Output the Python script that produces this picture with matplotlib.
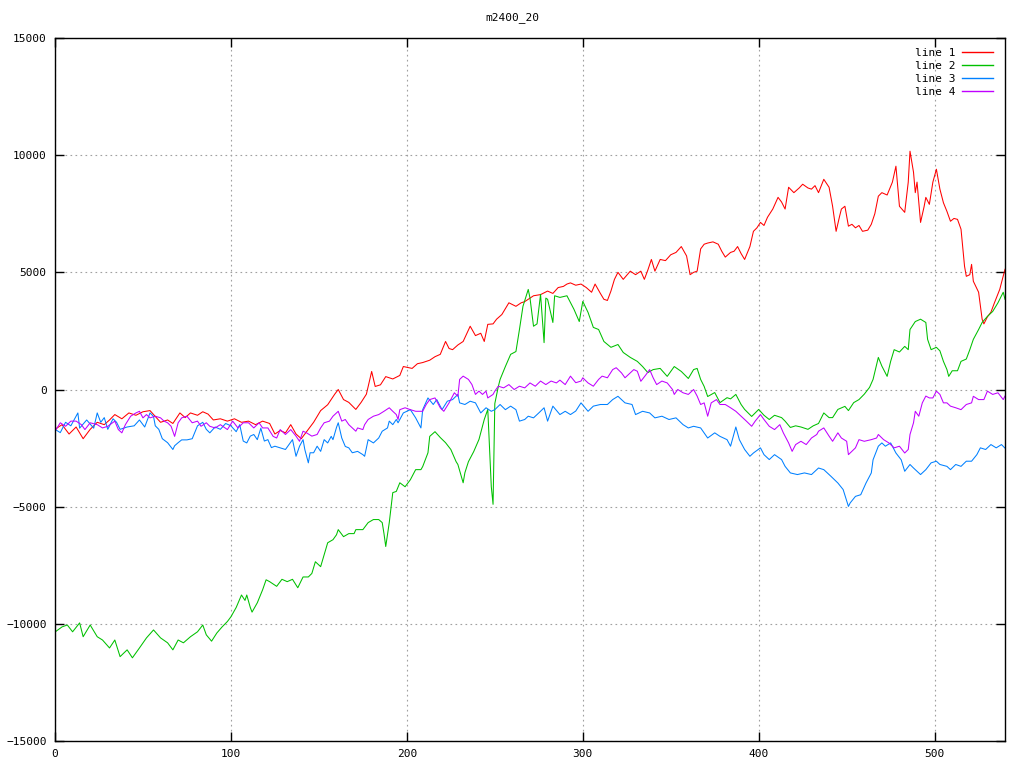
import matplotlib
matplotlib.use("Agg")
import matplotlib.pyplot as plt

title = "m2400_20"
labels = ["line 1", "line 2", "line 3", "line 4"]
colors = ["#ff0000", "#00c000", "#0080ff", "#c000ff"]
xticks = [0, 100, 200, 300, 400, 500]
yticks = [-15000, -10000, -5000, 0, 5000, 10000, 15000]

line1_x = [0, 4, 8, 12, 16, 20, 24, 28, 31, 34,
           38, 42, 46, 50, 54, 57, 60, 64, 67, 71,
           74, 77, 81, 84, 87, 90, 94, 98, 102, 106,
           110, 114, 118, 122, 125, 128, 131, 134, 137, 140,
           143, 147, 151, 155, 159, 161, 164, 167, 171, 174,
           177, 180, 182, 185, 188, 192, 196, 198, 203, 206,
           209, 213, 216, 219, 222, 224, 226, 229, 232, 236,
           239, 242, 244, 246, 249, 251, 254, 258, 262, 265,
           267, 270, 272, 276, 280, 283, 286, 289, 291, 293,
           296, 299, 302, 305, 307, 310, 312, 314, 316, 318,
           320, 323, 327, 330, 333, 335, 337, 339, 341, 344,
           347, 350, 353, 356, 359, 361, 363, 365, 367, 369,
           371, 374, 377, 379, 381, 384, 386, 388, 390, 392,
           395, 397, 399, 401, 403, 405, 408, 411, 413, 415,
           417, 420, 423, 425, 428, 430, 432, 434, 437, 440,
           442, 444, 446, 447, 449, 451, 453, 455, 457, 459,
           462, 464, 466, 468, 470, 473, 476, 478, 480, 483,
           485, 486, 488, 489, 490, 492, 494, 495, 497, 499,
           501, 503, 505, 507, 509, 511, 513, 515, 517, 518,
           520, 521, 522, 525, 527, 528, 530, 532, 534, 537, 540]
line1_y = [-1700, -1500, -1900, -1600, -2100, -1700, -1400, -1500, -1300, -1070,
           -1250, -1000, -1100, -950, -900, -1150, -1400, -1300, -1450, -1000,
           -1200, -1000, -1100, -950, -1050, -1300, -1250, -1350, -1250, -1400,
           -1350, -1500, -1350, -1450, -1900, -1750, -1850, -1500, -1900, -2100,
           -1800, -1400, -900, -650, -200, 0, -430, -550, -850, -550,
           -200, 770, 130, 200, 550, 450, 600, 980, 900, 1100,
           1150, 1250, 1400, 1500, 2050, 1750, 1700, 1900, 2050, 2700,
           2300, 2400, 2050, 2780, 2800, 3000, 3200, 3700, 3550, 3700,
           3750, 3900, 4000, 4050, 4200, 4100, 4350, 4400, 4500, 4550,
           4450, 4500, 4350, 4150, 4500, 4100, 3850, 3800, 4200, 4700,
           5000, 4700, 5050, 4900, 5050, 4700, 5100, 5550, 5050, 5550,
           5500, 5750, 5850, 6100, 5700, 4900, 5000, 5050, 6000, 6200,
           6250, 6300, 6200, 5900, 5650, 5850, 5900, 6100, 5800, 5550,
           6100, 6750, 6900, 7130, 7000, 7350, 7700, 8200, 8000, 7700,
           8630, 8400, 8600, 8760, 8600, 8550, 8700, 8400, 8970, 8630,
           7820, 6750, 7400, 7700, 7820, 6970, 7050, 6900, 7000, 6750,
           6800, 7050, 7500, 8250, 8400, 8300, 8850, 9530, 7820, 7560,
           8850, 10170, 9270, 8400, 8850, 7130, 7800, 8200, 7900, 8850,
           9400, 8550, 7970, 7600, 7180, 7300, 7260, 6840, 5260, 4830,
           4900, 5340, 4620, 4150, 3000, 2800, 3100, 3300, 3700, 4270, 5130]

line2_x = [0, 4, 7, 10, 14, 16, 20, 24, 27, 31,
           34, 37, 41, 44, 48, 52, 56, 60, 64, 67,
           70, 73, 77, 81, 84, 86, 89, 92, 95, 98,
           100, 103, 106, 108, 109, 111, 112, 115, 118, 120,
           122, 126, 129, 132, 135, 138, 141, 144, 146, 148,
           151, 153, 155, 158, 160, 161, 164, 167, 170, 171,
           175, 178, 181, 184, 186, 187, 188, 190, 192, 194,
           196, 199, 202, 205, 208, 209, 212, 213, 216, 219,
           222, 225, 228, 229, 232, 233, 235, 238, 241, 244,
           246, 247, 248, 249, 250, 252, 253, 256, 259, 262,
           264, 266, 269, 270, 272, 274, 276, 278, 279, 280,
           283, 284, 287, 291, 295, 298, 300, 303, 306, 309,
           312, 316, 320, 323, 327, 331, 334, 337, 340, 344,
           348, 352, 356, 360, 363, 365, 367, 369, 371, 375,
           378, 382, 384, 387, 390, 392, 396, 400, 403, 406,
           409, 413, 415, 418, 421, 424, 428, 431, 434, 437,
           440, 442, 445, 449, 451, 454, 457, 460, 463, 465,
           468, 470, 473, 475, 477, 480, 483, 485, 486, 489,
           492, 495, 496, 498, 501, 503, 505, 507, 508, 510,
           513, 515, 518, 520, 522, 525, 527, 530, 533, 536, 539, 540]
line2_y = [-10350, -10130, -10050, -10340, -9960, -10550, -10050, -10550, -10690, -11030,
           -10690, -11400, -11110, -11450, -11030, -10600, -10260, -10600, -10810, -11110,
           -10690, -10810, -10550, -10340, -10050, -10470, -10740, -10390, -10130, -9900,
           -9700, -9300, -8770, -9000, -8770, -9300, -9500, -9100, -8550, -8120,
           -8200, -8400, -8100, -8200, -8100, -8460, -8000, -8000, -7850, -7350,
           -7560, -7050, -6540, -6410, -6200, -5980, -6280, -6150, -6150, -5980,
           -5980, -5680, -5550, -5550, -5680, -6150, -6700, -5680, -4400, -4350,
           -3980, -4150, -3850, -3420, -3420, -3290, -2700, -2000, -1800, -2050,
           -2270, -2560, -3080, -3200, -3980, -3550, -3080, -2650, -2130, -1280,
           -850, -2500, -4150, -4900, -600, 130, 430, 980, 1500, 1620,
           2560, 3550, 4270, 3900, 2700, 2800, 4060, 2000, 3900, 3850,
           2860, 4000, 3930, 4000, 3420, 2900, 3760, 3290, 2650, 2560,
           2050, 1800, 1920, 1580, 1370, 1200, 980, 720, 850, 900,
           560, 980, 770, 470, 850, 900, 430, 130, -300, -130,
           -560, -350, -400, -210, -640, -850, -1150, -850, -1100, -1280,
           -1100, -1200, -1350, -1620, -1550, -1600, -1700, -1550, -1450, -1000,
           -1200, -1200, -850, -720, -900, -560, -430, -200, 90, 430,
           1370, 1000, 560, 1200, 1700, 1600, 1840, 1700, 2560, 2900,
           3000, 2860, 2140, 1700, 1800, 1650, 1200, 850, 560, 800,
           800, 1200, 1300, 1700, 2140, 2560, 2860, 3120, 3330, 3700, 4150, 3850]

line3_x = [0, 3, 6, 9, 13, 14, 18, 22, 24, 26,
           28, 30, 33, 35, 37, 41, 45, 48, 51, 54,
           56, 57, 59, 61, 64, 67, 68, 70, 72, 75,
           78, 81, 84, 86, 88, 91, 94, 97, 100, 103,
           105, 107, 109, 111, 113, 115, 117, 119, 121, 123,
           125, 128, 131, 133, 135, 137, 139, 141, 142, 144,
           145, 147, 149, 151, 153, 155, 157, 158, 160, 161,
           163, 165, 167, 169, 172, 175, 176, 177, 178, 181,
           184, 186, 189, 190, 192, 194, 195, 198, 202, 205,
           208, 209, 212, 215, 217, 220, 223, 226, 229, 230,
           233, 236, 239, 242, 245, 248, 250, 253, 256, 259,
           262, 264, 267, 269, 272, 275, 278, 280, 283, 287,
           290, 293, 296, 299, 303, 306, 310, 314, 317, 320,
           324, 328, 330, 334, 338, 341, 345, 349, 353, 357,
           360, 363, 367, 371, 375, 378, 382, 384, 387, 389,
           392, 395, 397, 401, 403, 406, 409, 413, 415, 418,
           422, 426, 430, 434, 437, 441, 445, 448, 451, 452,
           455, 458, 461, 464, 465, 468, 470, 472, 475, 478,
           481, 483, 486, 488, 492, 495, 498, 501, 503, 507,
           509, 512, 515, 518, 521, 524, 526, 529, 532, 535, 538, 540]
line3_y = [-1700, -1840, -1400, -1550, -1000, -1650, -1300, -1650, -1000, -1400,
           -1200, -1700, -1250, -1400, -1700, -1600, -1550, -1300, -1600, -1000,
           -1150, -1550, -1700, -2100, -2270, -2560, -2400, -2270, -2150, -2150,
           -2100, -1550, -1400, -1700, -1850, -1600, -1700, -1450, -1550, -1800,
           -1500, -2200, -2280, -1990, -1920, -2140, -1650, -2200, -2140, -2480,
           -2420, -2490, -2560, -2350, -2140, -2850, -2420, -2140, -2560, -3130,
           -2700, -2700, -2420, -2640, -2140, -2280, -2000, -2140, -1620, -1420,
           -2070, -2430, -2490, -2700, -2640, -2780, -2850, -2490, -2140, -2280,
           -2070, -1780, -1640, -1350, -1500, -1280, -1420, -1000, -860, -1210,
           -1640, -860, -360, -640, -430, -860, -500, -430, -210, -570,
           -640, -500, -570, -1000, -780, -930, -860, -640, -860, -710,
           -860, -1350, -1280, -1140, -1210, -1000, -780, -1350, -710, -1070,
           -930, -1070, -920, -570, -930, -710, -640, -640, -430, -290,
           -570, -640, -1070, -930, -1000, -1210, -1140, -1280, -1210, -1500,
           -1640, -1570, -1640, -2070, -1850, -2000, -2140, -2420, -1600, -2140,
           -2560, -2850, -2710, -2490, -2780, -2990, -2780, -2990, -3280, -3560,
           -3630, -3560, -3630, -3350, -3420, -3700, -3990, -4270, -4990, -4840,
           -4560, -4490, -3990, -3560, -3000, -2420, -2280, -2420, -2280, -2710,
           -3000, -3490, -3200, -3350, -3630, -3420, -3130, -3060, -3200, -3280,
           -3420, -3200, -3280, -3060, -3060, -2780, -2490, -2560, -2350, -2490, -2350, -2500]

line4_x = [0, 3, 6, 9, 12, 15, 17, 20, 24, 27,
           30, 34, 36, 38, 40, 43, 46, 48, 50, 52,
           54, 57, 60, 62, 64, 66, 68, 70, 72, 75,
           78, 81, 83, 86, 88, 91, 94, 98, 101, 104,
           107, 110, 113, 116, 118, 121, 124, 126, 128, 131,
           134, 137, 139, 141, 143, 146, 149, 151, 153, 156,
           158, 161, 163, 165, 167, 169, 171, 172, 175, 176,
           178, 181, 184, 187, 190, 192, 194, 195, 196, 199,
           202, 205, 209, 211, 213, 216, 219, 221, 224, 227,
           229, 230, 232, 235, 237, 239, 241, 243, 245, 246,
           249, 250, 252, 255, 258, 261, 264, 267, 270, 273,
           276, 279, 282, 285, 287, 290, 293, 296, 299, 300,
           303, 306, 309, 311, 314, 317, 319, 322, 324, 327,
           329, 331, 333, 336, 338, 340, 342, 345, 348, 351,
           352, 354, 357, 360, 363, 365, 367, 369, 371, 373,
           376, 378, 381, 384, 387, 390, 393, 396, 398, 401,
           403, 406, 409, 412, 414, 417, 419, 421, 424, 427,
           430, 433, 434, 437, 440, 442, 445, 447, 450, 451,
           454, 455, 457, 460, 464, 467, 468, 471, 474, 477,
           480, 483, 485, 486, 488, 489, 491, 493, 495, 497,
           499, 501, 503, 505, 507, 509, 512, 515, 518, 521,
           522, 525, 528, 530, 533, 536, 539, 540]
line4_y = [-1780, -1420, -1570, -1350, -1350, -1500, -1710, -1420, -1500, -1640,
           -1570, -1350, -1710, -1850, -1500, -1140, -1000, -930, -1210, -1070,
           -1210, -1140, -1210, -1350, -1420, -1570, -2000, -1420, -1210, -1140,
           -1420, -1350, -1570, -1420, -1570, -1640, -1500, -1710, -1350, -1640,
           -1420, -1420, -1640, -1420, -1640, -1640, -2000, -2070, -1710, -1920,
           -1710, -1990, -2210, -1780, -1850, -1990, -1920, -1640, -1420, -1350,
           -1140, -930, -1350, -1280, -1500, -1640, -1780, -1640, -1710, -1500,
           -1280, -1140, -1070, -930, -780, -930, -1070, -1280, -860, -780,
           -860, -930, -930, -640, -430, -360, -780, -930, -570, -140,
           -290, 430, 570, 430, 210, -210, -70, -210, -70, -360,
           -210, -70, 140, 70, 210, 0, 140, 70, 280, 140,
           360, 210, 360, 280, 400, 210, 570, 290, 360, 500,
           280, 140, 430, 570, 500, 850, 930, 710, 500, 710,
           850, 780, 350, 640, 850, 500, 210, 360, 280, 0,
           -210, 0, -140, -210, 0, -280, -640, -570, -1140, -570,
           -430, -640, -640, -780, -930, -1140, -1350, -1570, -1350, -1070,
           -1280, -1570, -1710, -1500, -1850, -2280, -2640, -2350, -2210, -2350,
           -2070, -1920, -1780, -1640, -1990, -2210, -1850, -2070, -2210, -2780,
           -2560, -2490, -2140, -2210, -2140, -2070, -1920, -2140, -2280, -2490,
           -2420, -2710, -2560, -1920, -1420, -930, -1140, -570, -280, -360,
           -360, -70, -210, -570, -570, -710, -780, -860, -640, -570,
           -290, -430, -430, -70, -210, -140, -430, -280]

series_x = [line1_x, line2_x, line3_x, line4_x]
series_y = [line1_y, line2_y, line3_y, line4_y]

FONT = ["DejaVu Sans Mono"]
plt.rcParams["font.family"] = FONT

fig = plt.figure(figsize=(10.24, 7.68), dpi=100)
W, H = 1024, 768
left, right, top, bottom = 55, 1005, 38, 741
ax = fig.add_axes([left / W, 1 - bottom / H, (right - left) / W, (bottom - top) / H])

for xs, ys, c, lab in zip(series_x, series_y, colors, labels):
    ax.plot(xs, ys, color=c, lw=0.75, label=lab, antialiased=True)

ax.set_xlim(0, 540)
ax.set_ylim(-15000, 15000)
ax.set_xticks(xticks)
ax.set_yticks(yticks)
ax.tick_params(direction="in", length=6.5, width=1, top=True, right=True,
               labelsize=8, pad=6, colors="black")
ax.grid(True, color="#a0a0a0", linestyle=(0, (1.5, 3)), linewidth=0.8)
for s in ax.spines.values():
    s.set_linewidth(1)
    s.set_color("black")

leg = ax.legend(loc="upper right", bbox_to_anchor=(0.996, 0.997), frameon=False,
                markerfirst=False, fontsize=8, handlelength=2.8, handletextpad=0.65,
                labelspacing=0.28, borderaxespad=0.3)
for h in leg.get_lines():
    h.set_linewidth(1.0)

fig.text(0.5, 1 - 18 / H, title, ha="center", va="center", fontsize=8)

fig.savefig("out.png", dpi=100)
